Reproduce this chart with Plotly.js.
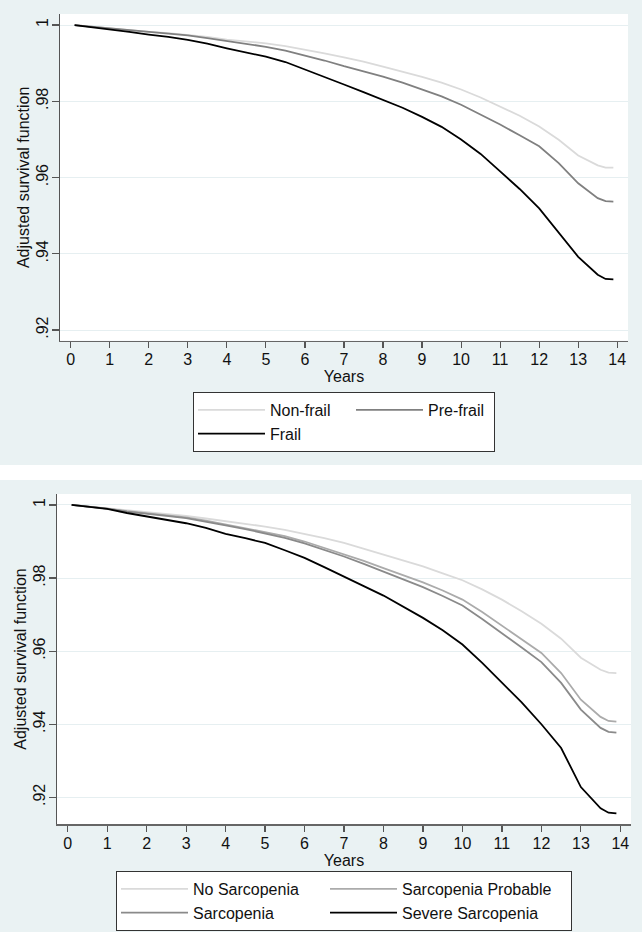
<!DOCTYPE html>
<html>
<head>
<meta charset="utf-8">
<script src="https://cdn.plot.ly/plotly-3.0.1.min.js"></script>
<style>
html,body{margin:0;padding:0;background:#eaf2f3;}
#chart{width:642px;height:932px;}
</style>
</head>
<body>
<div id="chart"></div>
<script>
// time grid (years)
const years = [0.1,0.5,1,1.5,2,2.5,3,3.5,4,4.5,5,5.5,6,6.5,7,7.5,8,8.5,9,9.5,10,10.5,11,11.5,12,12.5,13,13.5,13.7,13.9];

// Panel A: frailty
const nonFrail = [1.0,0.9996,0.9992,0.9987,0.9982,0.9979,0.9975,0.9969,0.9962,0.9957,0.9952,0.9945,0.9936,0.9926,0.9915,0.9904,0.9891,0.9878,0.9864,0.9849,0.9831,0.9810,0.9787,0.9762,0.9734,0.9699,0.9658,0.9632,0.9626,0.9626];
const preFrail = [1.0,0.9996,0.9991,0.9986,0.9981,0.9977,0.9973,0.9966,0.9958,0.9951,0.9943,0.9933,0.9921,0.9907,0.9892,0.9879,0.9865,0.9849,0.9832,0.9813,0.9791,0.9766,0.9739,0.9711,0.9682,0.9638,0.9585,0.9546,0.9538,0.9537];
const frail = [1.0,0.9995,0.9990,0.9982,0.9975,0.9969,0.9961,0.9951,0.9939,0.9928,0.9917,0.9903,0.9884,0.9864,0.9844,0.9824,0.9804,0.9783,0.9759,0.9733,0.9700,0.9662,0.9616,0.9570,0.9519,0.9454,0.9392,0.9345,0.9334,0.9333];

// Panel B: sarcopenia
const noSarc = [1.0,0.9996,0.9991,0.9985,0.9980,0.9975,0.9970,0.9963,0.9956,0.9949,0.9941,0.9932,0.9921,0.9909,0.9896,0.9880,0.9864,0.9848,0.9832,0.9813,0.9794,0.9769,0.9741,0.9709,0.9675,0.9634,0.9582,0.9549,0.9541,0.9540];
const sarcProbable = [1.0,0.9996,0.9990,0.9983,0.9977,0.9972,0.9966,0.9957,0.9947,0.9937,0.9927,0.9915,0.9900,0.9883,0.9866,0.9847,0.9827,0.9808,0.9788,0.9766,0.9741,0.9707,0.9670,0.9633,0.9595,0.9540,0.9467,0.9420,0.9409,0.9407];
const sarc = [1.0,0.9996,0.9990,0.9982,0.9975,0.9970,0.9964,0.9955,0.9944,0.9934,0.9923,0.9910,0.9895,0.9878,0.9859,0.9839,0.9818,0.9797,0.9775,0.9751,0.9725,0.9688,0.9650,0.9610,0.9570,0.9513,0.9440,0.9390,0.9379,0.9377];
const severeSarc = [1.0,0.9995,0.9989,0.9978,0.9968,0.9960,0.9950,0.9937,0.9921,0.9909,0.9896,0.9876,0.9855,0.9830,0.9805,0.9778,0.9752,0.9722,0.9691,0.9657,0.9618,0.9568,0.9514,0.9460,0.9400,0.9335,0.9228,0.9170,0.9158,0.9156];

// ticks and labels
const xTickVals = [0,1,2,3,4,5,6,7,8,9,10,11,12,13,14];
const yTickVals = [0.92,0.94,0.96,0.98,1];
const yTickText = ['.92','.94','.96','.98','1'];
const namesA = ['Non-frail','Pre-frail','Frail'];
const namesB = ['No Sarcopenia','Sarcopenia Probable','Sarcopenia','Severe Sarcopenia'];
const xTitle = 'Years';
const yTitle = 'Adjusted survival function';

const FONT = 'Liberation Sans, Arial, Helvetica, sans-serif';
const W = 642, H = 932;
const LW = 1.8;

function tr(y, name, color, xa, ya, leg, grp, lw) {
  return {x: years, y: y, name: name, type: 'scatter', mode: 'lines',
    line: {color: color, width: LW, shape: 'linear'},
    xaxis: xa, yaxis: ya, legend: leg, legendgroup: grp, legendwidth: lw,
    hoverinfo: 'x+y+name'};
}

const data = [
  tr(nonFrail, namesA[0], '#dadada', 'x', 'y', 'legend', 'a1', 76),
  tr(preFrail, namesA[1], '#808080', 'x', 'y', 'legend', 'a2', 61),
  tr(frail, namesA[2], '#000000', 'x', 'y', 'legend', 'a1', 76),
  tr(noSarc, namesB[0], '#dadada', 'x2', 'y2', 'legend2', 'b1', 127),
  tr(sarcProbable, namesB[1], '#ababab', 'x2', 'y2', 'legend2', 'b2', 164),
  tr(sarc, namesB[2], '#8a8a8a', 'x2', 'y2', 'legend2', 'b1', 127),
  tr(severeSarc, namesB[3], '#000000', 'x2', 'y2', 'legend2', 'b2', 164)
];

function xAxis(domain, range, anchor) {
  return {domain: domain, range: range, anchor: anchor,
    tickmode: 'array', tickvals: xTickVals, ticks: 'outside', ticklen: 6, tickwidth: 1.2,
    tickcolor: '#555', showline: true, linecolor: '#666', linewidth: 1.5,
    showgrid: false, zeroline: false, ticklabelstandoff: -2,
    tickfont: {family: FONT, size: 16, color: '#111'},
    title: {text: xTitle, font: {family: FONT, size: 16, color: '#111'}, standoff: 0},
    automargin: false, fixedrange: true};
}
function yAxis(domain, range, anchor) {
  return {domain: domain, range: range, anchor: anchor,
    tickmode: 'array', tickvals: yTickVals, ticktext: yTickText, tickangle: -90,
    ticks: 'outside', ticklen: 7, tickwidth: 1.2, tickcolor: '#555',
    showline: true, linecolor: '#555', linewidth: 1.3, ticklabelstandoff: -3,
    showgrid: true, gridcolor: '#e6eff1', gridwidth: 1, zeroline: false,
    tickfont: {family: FONT, size: 16, color: '#111'},
    title: {text: yTitle, font: {family: FONT, size: 16, color: '#111'}, standoff: 0},
    automargin: false, fixedrange: true};
}

const legendCommon = {
  orientation: 'h', traceorder: 'grouped', tracegroupgap: 0,
  bgcolor: '#ffffff', bordercolor: '#333', borderwidth: 1,
  font: {family: FONT, size: 16, color: '#111'},
  itemwidth: 67, xanchor: 'left', itemclick: false, itemdoubleclick: false
};

const layout = {
  width: W, height: H,
  margin: {l: 0, r: 0, t: 0, b: 0, pad: 0},
  paper_bgcolor: '#eaf2f3', plot_bgcolor: '#ffffff',
  showlegend: true,
  xaxis: xAxis([60/W, 628/W], [-0.274, 14.275], 'y'),
  yaxis: yAxis([1-340.7/H, 1-14/H], [0.9172, 1.0029], 'x'),
  xaxis2: xAxis([57/W, 631/W], [-0.271, 14.27], 'y2'),
  yaxis2: yAxis([1-824/H, 1-494/H], [0.9127, 1.003], 'x2'),
  legend: Object.assign({}, legendCommon, {x: 193/W, y: 1-392/H, yanchor: 'top'}),
  legend2: Object.assign({}, legendCommon, {x: 116/W, y: 1/H, yanchor: 'bottom'}),
  shapes: [
    {type: 'rect', xref: 'paper', yref: 'paper', x0: 0, x1: 1, y0: 1-480/H, y1: 1-465/H,
     fillcolor: '#ffffff', line: {width: 0}, layer: 'below'}
  ]
};

Plotly.newPlot('chart', data, layout, {displayModeBar: false, staticPlot: true});
</script>
</body>
</html>
